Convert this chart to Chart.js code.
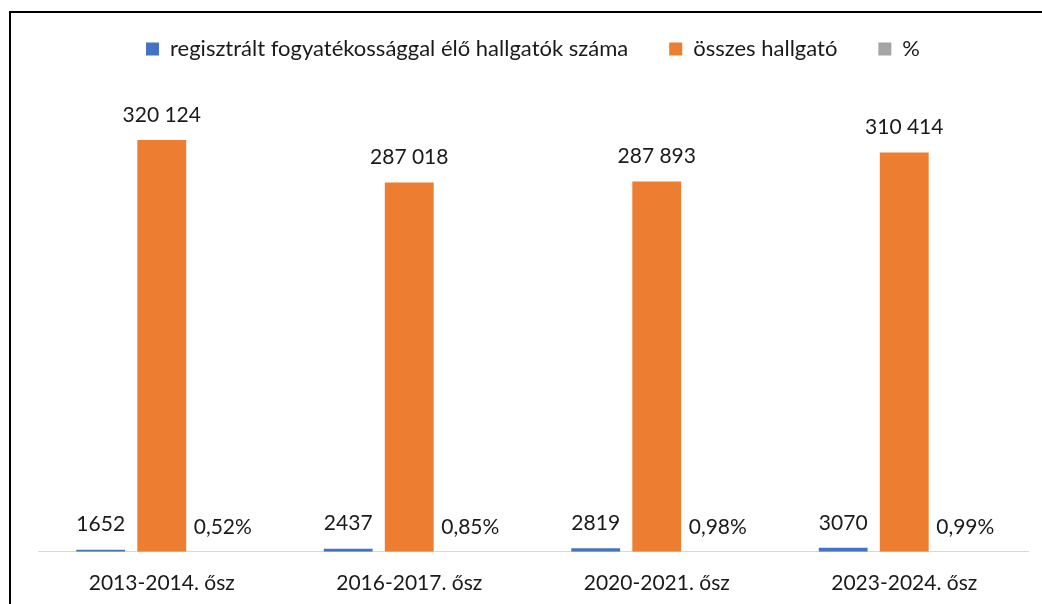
<!DOCTYPE html>
<html>
<head>
<meta charset="utf-8">
<script src="https://cdn.jsdelivr.net/npm/chart.js@4.4.1/dist/chart.umd.min.js"></script>
<style>
  html, body { margin: 0; padding: 0; background: #fff; overflow: hidden; }
  #frame { position: absolute; left: 9px; top: 11px; width: 1200px; height: 800px; border: 2px solid #000; }
  #wrap { position: absolute; left: 0; top: 0; width: 1042px; height: 604px; }
</style>
</head>
<body>
<div id="frame"></div>
<div id="wrap"><canvas id="chart" width="1042" height="604"></canvas></div>
<script>
// chart data
var categories = ['2013-2014. ősz', '2016-2017. ősz', '2020-2021. ősz', '2023-2024. ősz'];
var disabledStudents = [1652, 2437, 2819, 3070];
var allStudents = [320124, 287018, 287893, 310414];
var percentValues = [0.52, 0.85, 0.98, 0.99];

var FONT = 'Lato';
var FONT_SIZE = 21;
var LEGEND_SIZE = 22;
var TEXT_COLOR = '#1a1a1a';

function spaced(n) {
  return String(n).replace(/\B(?=(\d{3})+(?!\d))/g, ' ');
}

// simple value labels drawn above each bar
var barLabels = {
  id: 'barLabels',
  afterDatasetsDraw: function(chart) {
    var ctx = chart.ctx;
    ctx.save();
    ctx.font = FONT_SIZE + 'px ' + FONT;
    ctx.fillStyle = TEXT_COLOR;
    ctx.textAlign = 'center';
    ctx.textBaseline = 'middle';
    chart.data.datasets.forEach(function(ds, i) {
      var meta = chart.getDatasetMeta(i);
      meta.data.forEach(function(el, j) {
        var txt;
        if (i === 0) txt = String(disabledStudents[j]);
        else if (i === 1) txt = spaced(allStudents[j]);
        else txt = percentValues[j].toFixed(2).replace('.', ',') + '%';
        ctx.fillText(txt, el.x, el.y - 25);
      });
    });
    ctx.restore();
  }
};

var config = {
  type: 'bar',
  data: {
    labels: categories,
    datasets: [{
      label: 'regisztrált fogyatékossággal élő hallgatók száma',
      data: disabledStudents,
      backgroundColor: '#4472C4'
    }, {
      label: 'összes hallgató',
      data: allStudents,
      backgroundColor: '#ED7D31'
    }, {
      label: '%',
      data: percentValues.map(function(v) { return v / 100; }),
      backgroundColor: '#A5A5A5'
    }]
  },
  options: {
    responsive: false,
    animation: false,
    datasets: {
      bar: { categoryPercentage: 0.74, barPercentage: 0.8 }
    },
    layout: { padding: { left: 38, right: 14, top: -3, bottom: -3 } },
    plugins: {
      tooltip: { enabled: false },
      legend: {
        position: 'top',
        labels: {
          font: { family: FONT, size: LEGEND_SIZE },
          color: TEXT_COLOR,
          boxWidth: 13,
          boxHeight: 13,
          padding: 41
        }
      }
    },
    scales: {
      x: {
        grid: { display: false },
        border: { color: '#d9d9d9', width: 1 },
        ticks: {
          font: { family: FONT, size: FONT_SIZE },
          color: TEXT_COLOR,
          padding: 11
        }
      },
      y: {
        display: false,
        min: 0,
        max: 374500
      }
    }
  },
  plugins: [barLabels]
};

window.onload = function() {
  var ctx = document.getElementById('chart').getContext('2d');
  window.myBar = new Chart(ctx, config);
};
</script>
</body>
</html>
